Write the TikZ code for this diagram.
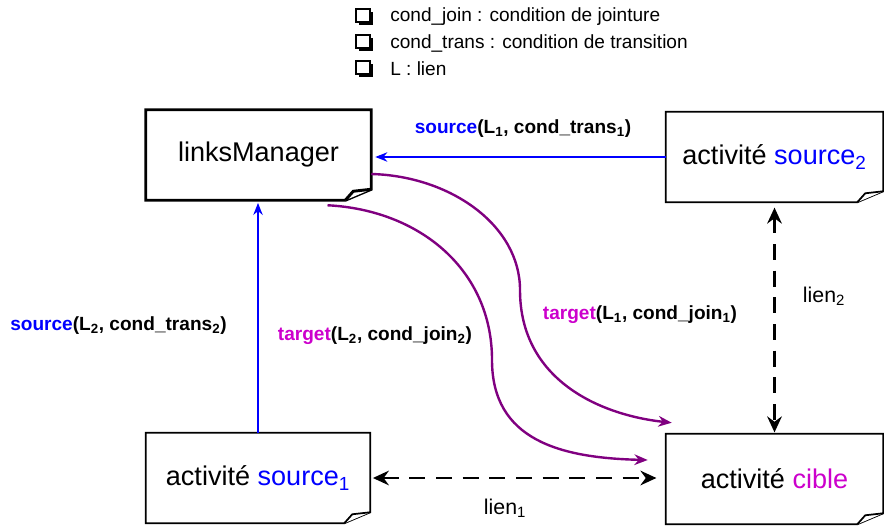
\documentclass[tikz,border=0pt]{standalone}
\usepackage{fontspec}
\setmainfont{Liberation Sans}
\usetikzlibrary{arrows.meta}
\definecolor{srcblue}{RGB}{0,0,255}
\definecolor{tgtmag}{RGB}{204,0,204}
\definecolor{linkpurple}{RGB}{128,0,128}
\begin{document}
\begin{tikzpicture}[x=0.75pt,y=0.75pt,
	note/.style={minimum width=162.75pt, minimum height=67.5pt, inner sep=0pt, font=\fontsize{20.3}{24}\selectfont},
	lbl/.style={font=\bfseries\fontsize{14.3}{17}\selectfont, inner sep=0pt},
	legendtext/.style={anchor=west, inner sep=0pt, font=\fontsize{14.3}{17}\selectfont},
	lientext/.style={font=\fontsize{16}{19}\selectfont, inner sep=0pt},
	call/.style={line width=1.5pt, srcblue, -{Stealth[length=9pt,width=7pt]}},
	flow/.style={line width=1.8pt, linkpurple, -{Stealth[length=10pt,width=8pt]}},
	lienarrow/.style={line width=1.8pt, dash pattern=on 12pt off 8pt, {Stealth[length=12pt,width=11pt,inset=4pt]}-{Stealth[length=12pt,width=11pt,inset=4pt]}}]
	\useasboundingbox (0,0) rectangle (884,525);
	% Legend
	\foreach \y/\txt in {508/{cond\_join : condition de jointure}, 482/{cond\_trans : condition de transition}, 456/{L : lien}} {
		\fill (359,\y-8) rectangle (373,\y+5);
		\filldraw [fill=white, line width=1.2pt] (356,\y-5) rectangle (370,\y+8);
		\node [legendtext] (leg\y) at (390,\y) {\txt};
	}
	% Activities
	\node [note, minimum width=168.75pt] (lm) at (258.5,370) {\raisebox{-3pt}{linksManager}};
	\node [note] (srcB) at (774.5,368) {activité \textcolor{srcblue}{source\textsubscript{2}}};
	\node [note, minimum width=168pt] (srcA) at (258,47) {activité \textcolor{srcblue}{source\textsubscript{1}}};
	\node [note] (cible) at (774.5,46) {activité \textcolor{tgtmag}{cible}};
	\foreach \n/\lw in {lm/2.2pt, srcB/1.3pt, srcA/1.3pt, cible/1.3pt} {
		\draw [line width=\lw, line join=miter] (\n.north west) -- (\n.north east) -- ([shift={(0,11)}]\n.south east)
			-- ([shift={(-26,0)}]\n.south east) -- (\n.south west) -- cycle;
		\draw [line width=\lw, fill=white, line join=miter] ([shift={(-26,0)}]\n.south east) -- ([shift={(-18,9)}]\n.south east) -- ([shift={(0,11)}]\n.south east);
	}
	% Calls
	\draw [call, shorten >=3pt] (srcB.west) -- (srcB.west -| lm.east);
	\draw [call, shorten >=2pt] (srcA.north) -- (srcA.north |- lm.south);
	\draw [flow] ([shift={(0,-19)}]lm.east) .. controls (450,349) and (520,300) .. (520,235)
		.. controls (520,145) and (600,110) .. ([shift={(6,11)}]cible.north west);
	\draw [flow] ([shift={(69,-5)}]lm.south) .. controls (420,315) and (492,255) .. (492,165)
		.. controls (492,85) and (560,67) .. ([shift={(-18,19)}]cible.west);
	% Links
	\draw [lienarrow, shorten <=2pt, shorten >=7pt] (srcA.east) -- (srcA.east -| cible.west);
	\draw [lienarrow, shorten <=4pt, shorten >=1pt] (srcB.south) -- (srcB.south |- cible.north);
	% Labels
	\node [lbl] (s1lbl) at (523,396) {\textcolor{srcblue}{source}(L\textsubscript{1}, cond\_trans\textsubscript{1})};
	\node [lbl] (s2lbl) at (118.5,199) {\textcolor{srcblue}{source}(L\textsubscript{2}, cond\_trans\textsubscript{2})};
	\node [lbl] (t1lbl) at (640,210) {\textcolor{tgtmag}{target}(L\textsubscript{1}, cond\_join\textsubscript{1})};
	\node [lbl] (t2lbl) at (375,189) {\textcolor{tgtmag}{target}(L\textsubscript{2}, cond\_join\textsubscript{2})};
	\node [lientext] (l1lbl) at (505,17) {lien\textsubscript{1}};
	\node [lientext] (l2lbl) at (824,229) {lien\textsubscript{2}};
\end{tikzpicture}
\end{document}
